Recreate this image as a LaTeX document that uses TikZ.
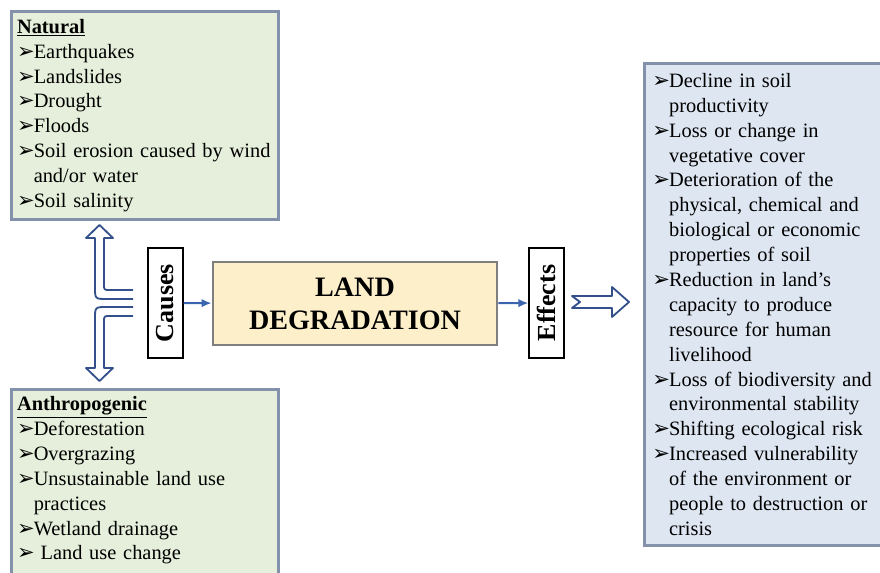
\documentclass[tikz,border=0pt]{standalone}
\usepackage{fontspec}
\setmainfont{Liberation Serif}
\newfontfamily\symfont{DejaVu Sans}
\usepackage{tikz}
\usetikzlibrary{arrows.meta}
\definecolor{natgreen}{HTML}{E6EFDB}
\definecolor{effblue}{HTML}{DDE6F1}
\definecolor{ldyellow}{HTML}{FCEFC9}
\definecolor{rimblue}{HTML}{8391AB}
\definecolor{rimgray}{HTML}{7F7F7F}
\definecolor{flowblue}{HTML}{3A64AE}
\definecolor{hollowblue}{HTML}{34508A}
\newcommand{\bulletmark}{\hangindent=0.82em\hangafter=1\makebox[0.82em][l]{\smash{\symfont\fontsize{15}{15}\selectfont ➢}}}
\newcommand{\itm}{\par\noindent\bulletmark}

\begin{document}
\begin{tikzpicture}[x=0.025cm, y=-0.025cm,
    listbox/.style={draw=rimblue, line width=2pt, inner xsep=4pt, inner ysep=5pt, align=left,
        font=\fontsize{14.5}{17.7}\selectfont},
    sidebox/.style={draw=black, line width=1pt, fill=white, rotate=90, minimum width=2.75cm,
        minimum height=0.875cm, inner sep=0pt, font=\bfseries\fontsize{18.5}{20}\selectfont},
    flow/.style={-{Latex[length=7pt, width=6pt]}, flowblue, line width=1.4pt},
    hollow/.style={draw=hollowblue, fill=white, line width=1.3pt, line join=round}]
    \useasboundingbox (0,0) rectangle (880,572);
    \clip (0,0) rectangle (880,572);

    % Define the nodes
    \node[listbox, fill=natgreen, anchor=north west, inner ysep=5.5pt, text width=6.4cm] (natural) at (10,10)
        {\underline{\textbf{Natural}}
        \itm Earthquakes
        \itm Landslides
        \itm Drought
        \itm Floods
        \itm Soil erosion caused by wind\newline and/or water
        \itm Soil salinity\par};
    \node[listbox, fill=natgreen, anchor=north west, text width=6.4cm] (anthro) at (10,388)
        {\underline{\textbf{Anthropogenic}}
        \itm Deforestation
        \itm Overgrazing
        \itm Unsustainable land use\newline practices
        \itm Wetland drainage
        \itm\ Land use change
        \par\rule{0pt}{1cm}};
    \node[sidebox] (causes) at (165.5,303) {Causes};
    \node[draw=rimgray, line width=2pt, fill=ldyellow, minimum width=7.1cm, minimum height=2.075cm,
        align=center, font=\bfseries\fontsize{20}{23.4}\selectfont] (land) at (355,303.5) {LAND\\DEGRADATION};
    \node[sidebox] (effects) at (546.5,303) {Effects};
    \node[listbox, fill=effblue, anchor=north west, minimum width=6.5cm, inner ysep=7pt, text width=6.1cm] (result) at (643,62)
        {\bulletmark Decline in soil\newline productivity
        \itm Loss or change in\newline vegetative cover
        \itm Deterioration of the\newline physical, chemical and\newline biological or economic\newline properties of soil
        \itm Reduction in land's\newline capacity to produce\newline resource for human\newline livelihood
        \itm Loss of biodiversity and\newline environmental stability
        \itm Shifting ecological risk
        \itm Increased vulnerability\newline of the environment or\newline people to destruction or\newline crisis\par};

    \draw[flow] (causes) -- (land);
    \draw[flow] (land) -- (effects);

    % hollow arrows
    \filldraw[hollow] (133,290) -- (110,290) .. controls (104,290) .. (104,284) -- (104,238) -- (113,238)
        -- (99.5,225) -- (86,238) -- (95,238) -- (95,287) .. controls (95,299) .. (107,299) -- (133,299);
    \filldraw[hollow] (133,316) -- (110,316) .. controls (104,316) .. (104,322) -- (104,368) -- (113,368)
        -- (99.5,381) -- (86,368) -- (95,368) -- (95,319) .. controls (95,307) .. (107,307) -- (133,307);
    \filldraw[hollow] (572,296) -- (612,296) -- (612,287) -- (629,302) -- (612,317) -- (612,308)
        -- (572,308) -- (580,302) -- cycle;
\end{tikzpicture}
\end{document}
